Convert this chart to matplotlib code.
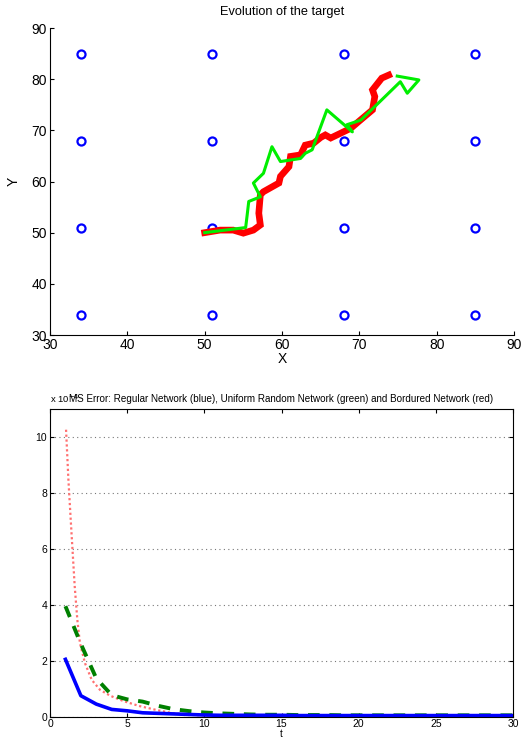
import matplotlib
matplotlib.use("Agg")
import matplotlib.pyplot as plt
import numpy as np

plt.rcParams['font.family'] = ['Liberation Sans', 'DejaVu Sans']

# ---- Top chart data ----
node_x = [34, 51, 68, 85]
node_y = [34, 51, 68, 85]

green_x = [50.0, 55.3, 55.5, 55.7, 57.2, 56.3, 57.6, 58.7, 59.8, 62.4, 63.0, 63.9,
           65.8, 69.1, 68.4, 70.2, 75.3, 76.2, 77.7, 74.9]
green_y = [50.0, 51.0, 53.5, 56.1, 57.0, 59.7, 61.6, 66.8, 63.9, 64.5, 65.5, 66.2,
           74.0, 69.7, 71.1, 72.0, 79.5, 77.25, 79.85, 80.6]

red_x = [50.0, 52.0, 53.7, 55.0, 56.3, 57.2, 57.0, 57.2, 57.6, 59.6, 59.8, 60.9,
         61.1, 62.4, 63.0, 64.1, 65.0, 65.6, 66.3, 68.9, 69.9, 71.7, 72.0, 71.7,
         72.9, 73.8]
red_y = [50.0, 50.5, 50.5, 49.9, 50.5, 51.5, 53.8, 57.4, 58.0, 59.7, 61.0, 62.9,
         64.9, 65.2, 67.1, 67.5, 68.6, 69.1, 68.5, 70.4, 71.7, 74.0, 76.6, 77.9,
         80.2, 80.8]

# ---- Bottom chart data (x 10^-4) ----
t = list(range(1, 31))
blue_err = [2.05, 0.75, 0.45, 0.26, 0.21, 0.14, 0.12, 0.10, 0.08, 0.06,
            0.05, 0.05, 0.05, 0.05, 0.05, 0.04, 0.04, 0.04, 0.04, 0.04,
            0.04, 0.04, 0.04, 0.04, 0.04, 0.04, 0.04, 0.04, 0.04, 0.04]
green_err = [3.95, 2.6, 1.37, 0.77, 0.62, 0.54, 0.39, 0.27, 0.20, 0.15,
             0.12, 0.10, 0.08, 0.07, 0.07, 0.06, 0.06, 0.06, 0.05, 0.05,
             0.05, 0.05, 0.05, 0.05, 0.05, 0.05, 0.05, 0.05, 0.05, 0.05]
red_t = [1.04, 1.19, 1.34, 1.47, 1.6, 1.77, 1.94, 2.27, 2.7, 3.24, 3.9, 4.75,
         5.8, 6.9, 8.0, 9.0, 10.0, 15.0, 20.0, 25.0, 30.0]
red_err = [10.26, 8.5, 7.06, 5.86, 4.67, 3.47, 2.63, 1.91, 1.32, 0.96, 0.75, 0.56,
           0.38, 0.24, 0.12, 0.07, 0.05, 0.04, 0.04, 0.04, 0.04]

fig = plt.figure(figsize=(5.28, 7.37), dpi=100)

# Top axes
ax1 = fig.add_axes([50/528, 1-335/737, 464/528, 307/737])
ax1.plot(np.repeat(node_x, len(node_y)), np.tile(node_y, len(node_x)), 'o',
         mfc='none', mec='blue', mew=1.6, ms=5.8, ls='none')
ax1.plot(red_x, red_y, color='red', lw=4.8, solid_joinstyle='miter')
ax1.plot(green_x, green_y, color='#00ee00', lw=2.2)
ax1.set_xlim(30, 90)
ax1.set_ylim(30, 90)
ax1.set_xticks(range(30, 91, 10))
ax1.set_yticks(range(30, 91, 10))
ax1.spines['top'].set_visible(False)
ax1.spines['right'].set_visible(False)
ax1.tick_params(direction='in', length=3, labelsize=10, pad=2)
ax1.set_title('Evolution of the target', fontsize=9.2, pad=9)
ax1.set_xlabel('X', fontsize=10, labelpad=0)
ax1.set_ylabel('Y', fontsize=10, labelpad=8)

# Bottom axes
ax2 = fig.add_axes([50/528, 1-716.7/737, 463/528, 307.7/737])
ax2.plot(red_t, red_err, color='#ff7070', lw=1.6, ls=(0, (1, 1.2)))
ax2.plot(t, green_err, color='#008000', lw=2.8, ls=(0, (3, 2.5)))
ax2.plot(t, blue_err, color='blue', lw=2.6)
ax2.set_xlim(0, 30)
ax2.set_ylim(0, 11)
ax2.set_xticks(range(0, 31, 5))
ax2.set_yticks(range(0, 11, 2))
ax2.yaxis.grid(True, ls=(0, (1, 3)), color='#777777', lw=0.8)
ax2.tick_params(direction='in', length=3, labelsize=7.5, top=True, right=True, pad=2)
ax2.set_title('MS Error: Regular Network (blue), Uniform Random Network (green) and Bordured Network (red)',
              fontsize=7.1, pad=5)
ax2.text(0.0, 1.012, 'x 10$^{-4}$', transform=ax2.transAxes, fontsize=6.8,
         ha='left', va='bottom')
ax2.set_xlabel('t', fontsize=7, labelpad=0)

fig.savefig('out.png', dpi=100)
